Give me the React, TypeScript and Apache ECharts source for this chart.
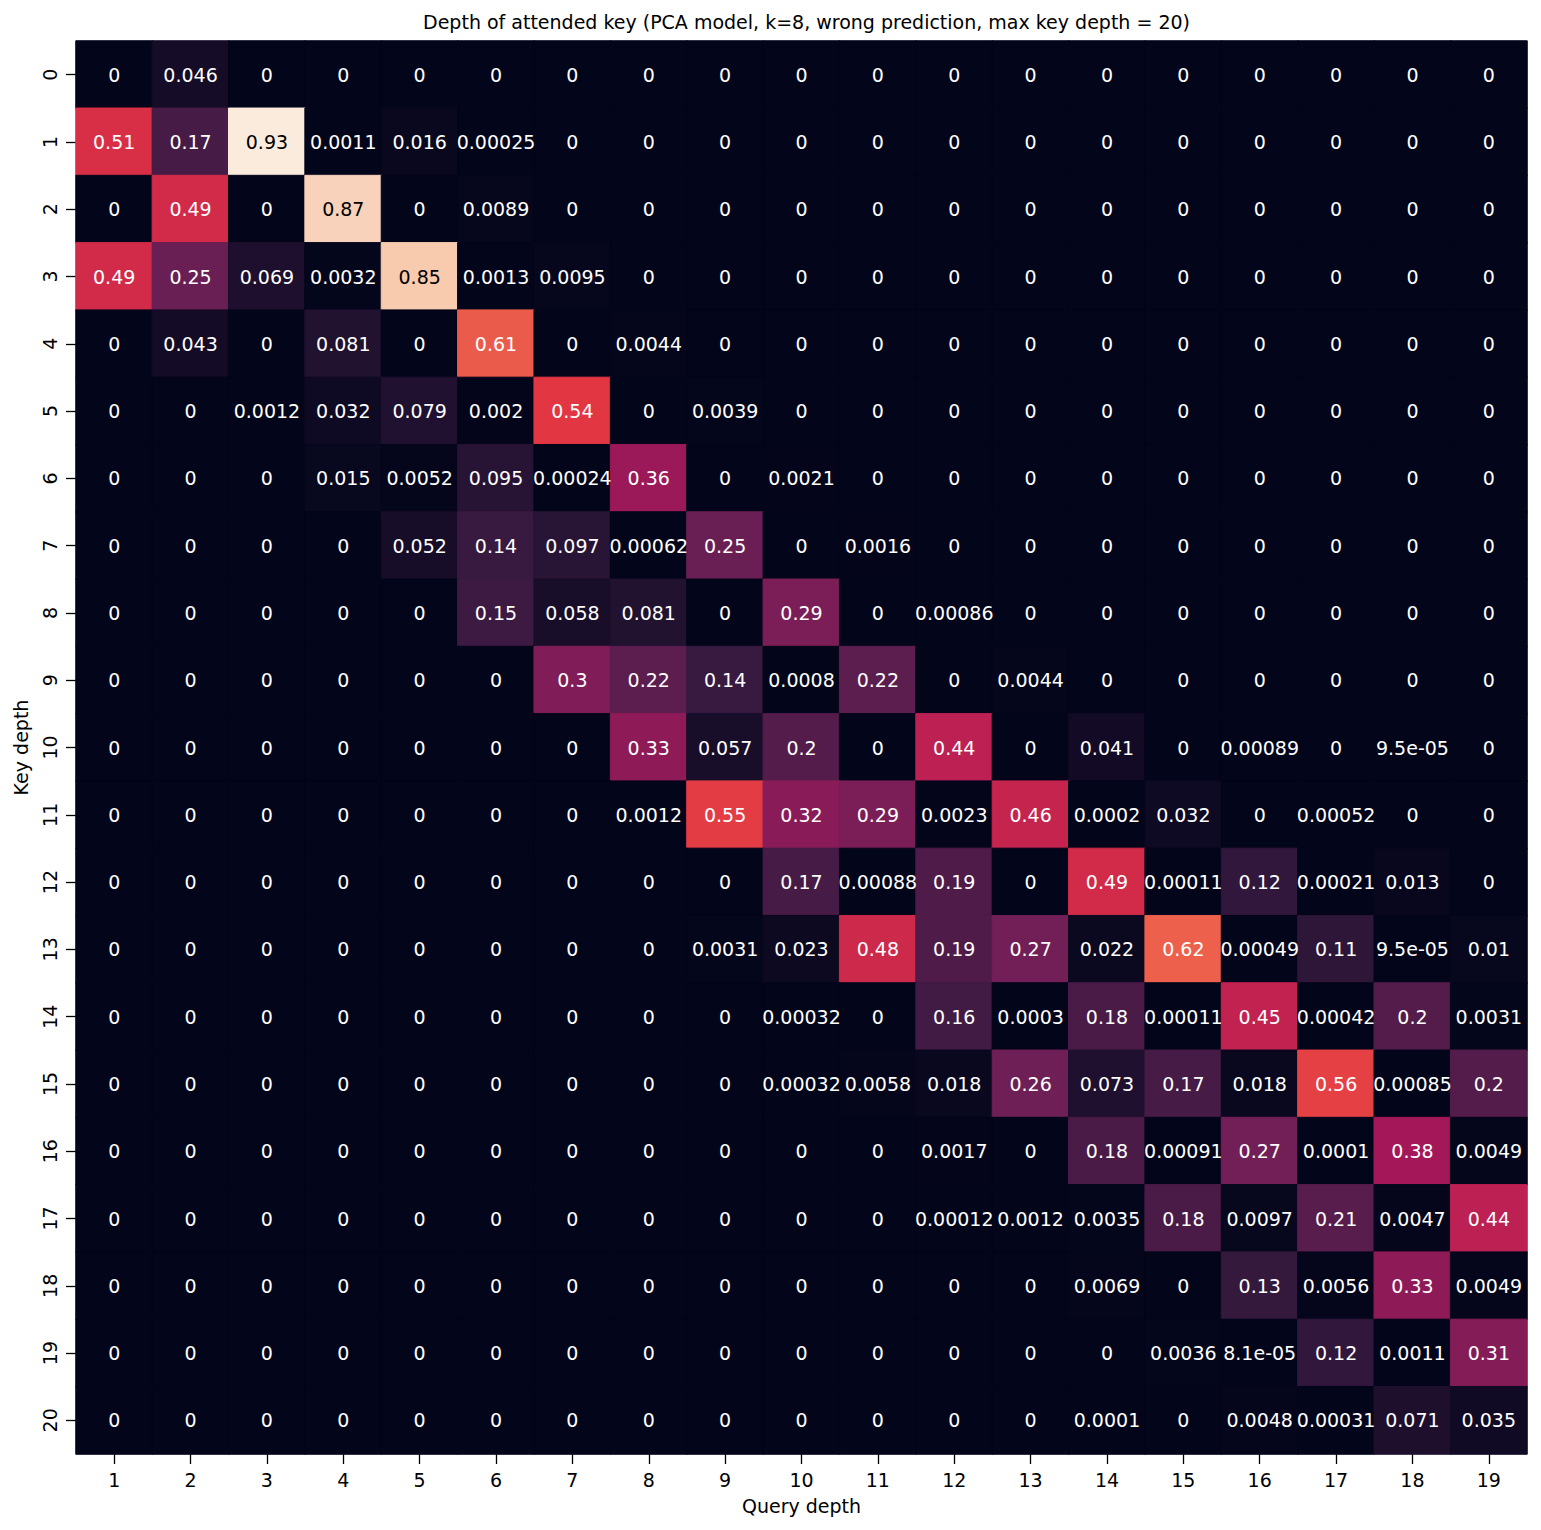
import React, { useEffect, useRef } from "react";
import * as echarts from "echarts";

const TITLE = "Depth of attended key (PCA model, k=8, wrong prediction, max key depth = 20)";
const queryDepths = ["1","2","3","4","5","6","7","8","9","10","11","12","13","14","15","16","17","18","19"];
const keyDepths = ["0","1","2","3","4","5","6","7","8","9","10","11","12","13","14","15","16","17","18","19","20"];

// rows = key depth 0..20, columns = query depth 1..19
const attention: number[][] = [
  [0, 0.046, 0, 0, 0, 0, 0, 0, 0, 0, 0, 0, 0, 0, 0, 0, 0, 0, 0],
  [0.51, 0.17, 0.93, 0.0011, 0.016, 0.00025, 0, 0, 0, 0, 0, 0, 0, 0, 0, 0, 0, 0, 0],
  [0, 0.49, 0, 0.87, 0, 0.0089, 0, 0, 0, 0, 0, 0, 0, 0, 0, 0, 0, 0, 0],
  [0.49, 0.25, 0.069, 0.0032, 0.85, 0.0013, 0.0095, 0, 0, 0, 0, 0, 0, 0, 0, 0, 0, 0, 0],
  [0, 0.043, 0, 0.081, 0, 0.61, 0, 0.0044, 0, 0, 0, 0, 0, 0, 0, 0, 0, 0, 0],
  [0, 0, 0.0012, 0.032, 0.079, 0.002, 0.54, 0, 0.0039, 0, 0, 0, 0, 0, 0, 0, 0, 0, 0],
  [0, 0, 0, 0.015, 0.0052, 0.095, 0.00024, 0.36, 0, 0.0021, 0, 0, 0, 0, 0, 0, 0, 0, 0],
  [0, 0, 0, 0, 0.052, 0.14, 0.097, 0.00062, 0.25, 0, 0.0016, 0, 0, 0, 0, 0, 0, 0, 0],
  [0, 0, 0, 0, 0, 0.15, 0.058, 0.081, 0, 0.29, 0, 0.00086, 0, 0, 0, 0, 0, 0, 0],
  [0, 0, 0, 0, 0, 0, 0.3, 0.22, 0.14, 0.0008, 0.22, 0, 0.0044, 0, 0, 0, 0, 0, 0],
  [0, 0, 0, 0, 0, 0, 0, 0.33, 0.057, 0.2, 0, 0.44, 0, 0.041, 0, 0.00089, 0, 9.5e-5, 0],
  [0, 0, 0, 0, 0, 0, 0, 0.0012, 0.55, 0.32, 0.29, 0.0023, 0.46, 0.0002, 0.032, 0, 0.00052, 0, 0],
  [0, 0, 0, 0, 0, 0, 0, 0, 0, 0.17, 0.00088, 0.19, 0, 0.49, 0.00011, 0.12, 0.00021, 0.013, 0],
  [0, 0, 0, 0, 0, 0, 0, 0, 0.0031, 0.023, 0.48, 0.19, 0.27, 0.022, 0.62, 0.00049, 0.11, 9.5e-5, 0.01],
  [0, 0, 0, 0, 0, 0, 0, 0, 0, 0.00032, 0, 0.16, 0.0003, 0.18, 0.00011, 0.45, 0.00042, 0.2, 0.0031],
  [0, 0, 0, 0, 0, 0, 0, 0, 0, 0.00032, 0.0058, 0.018, 0.26, 0.073, 0.17, 0.018, 0.56, 0.00085, 0.2],
  [0, 0, 0, 0, 0, 0, 0, 0, 0, 0, 0, 0.0017, 0, 0.18, 0.00091, 0.27, 0.0001, 0.38, 0.0049],
  [0, 0, 0, 0, 0, 0, 0, 0, 0, 0, 0, 0.00012, 0.0012, 0.0035, 0.18, 0.0097, 0.21, 0.0047, 0.44],
  [0, 0, 0, 0, 0, 0, 0, 0, 0, 0, 0, 0, 0, 0.0069, 0, 0.13, 0.0056, 0.33, 0.0049],
  [0, 0, 0, 0, 0, 0, 0, 0, 0, 0, 0, 0, 0, 0, 0.0036, 8.1e-5, 0.12, 0.0011, 0.31],
  [0, 0, 0, 0, 0, 0, 0, 0, 0, 0, 0, 0, 0, 0.0001, 0, 0.0048, 0.00031, 0.071, 0.035],
];

// seaborn "rocket" colormap stops
const rocketStops: [number, string][] = [
  [0, "#03051a"],
  [1 / 7, "#35193e"],
  [2 / 7, "#701f57"],
  [3 / 7, "#ad1759"],
  [4 / 7, "#e13342"],
  [5 / 7, "#f37651"],
  [6 / 7, "#f6b48f"],
  [1, "#faebdd"],
];

function hexToRgb(h: string): number[] {
  return [parseInt(h.slice(1, 3), 16), parseInt(h.slice(3, 5), 16), parseInt(h.slice(5, 7), 16)];
}

function rocket(t: number): number[] {
  t = Math.max(0, Math.min(1, t));
  for (let i = 0; i < rocketStops.length - 1; i++) {
    const [t0, c0] = rocketStops[i];
    const [t1, c1] = rocketStops[i + 1];
    if (t <= t1) {
      const f = (t - t0) / (t1 - t0);
      const a = hexToRgb(c0);
      const b = hexToRgb(c1);
      return a.map((v, k) => Math.round(v + (b[k] - v) * f));
    }
  }
  return hexToRgb(rocketStops[rocketStops.length - 1][1]);
}

function luminance(rgb: number[]): number {
  const lin = rgb.map((v) => {
    const c = v / 255;
    return c <= 0.03928 ? c / 12.92 : Math.pow((c + 0.055) / 1.055, 2.4);
  });
  return 0.2126 * lin[0] + 0.7152 * lin[1] + 0.0722 * lin[2];
}

function fmt(v: number): string {
  if (v === 0) return "0";
  const e = Math.floor(Math.log10(Math.abs(v)));
  if (e < -4) {
    const m = String(parseFloat((v / Math.pow(10, e)).toPrecision(2)));
    return m + "e-" + String(-e).padStart(2, "0");
  }
  return String(parseFloat(v.toPrecision(2)));
}

const FONT = "DejaVu Sans";
const FS = 19;

export default function App() {
  const ref = useRef<HTMLDivElement>(null);
  useEffect(() => {
    document.body.style.margin = "0";
    if (!ref.current) return;
    const chart = echarts.init(ref.current, null, { renderer: "svg" });
    let vmax = 0;
    let vmin = Infinity;
    attention.forEach((row) => row.forEach((v) => { vmax = Math.max(vmax, v); vmin = Math.min(vmin, v); }));
    const palette: string[] = [];
    for (let i = 0; i <= 56; i++) {
      const c = rocket(i / 56);
      palette.push(`rgb(${c[0]},${c[1]},${c[2]})`);
    }
    const base = rocket(0);
    const data: any[] = [];
    attention.forEach((row, yi) => {
      row.forEach((v, xi) => {
        const rgb = rocket((v - vmin) / (vmax - vmin));
        const col = `rgb(${rgb[0]},${rgb[1]},${rgb[2]})`;
        data.push({
          value: [xi, yi, v],
          itemStyle: { borderColor: col, borderWidth: 1 },
          label: { color: luminance(rgb) > 0.408 ? "#000000" : "#ffffff" },
        });
      });
    });
    chart.setOption({
      animation: false,
      backgroundColor: "#ffffff",
      title: {
        text: TITLE,
        left: 801.5,
        textAlign: "center",
        top: 7,
        textStyle: { fontFamily: FONT, fontSize: FS, fontWeight: "normal", color: "#000" },
      },
      visualMap: {
        show: false,
        type: "continuous",
        min: vmin,
        max: vmax,
        dimension: 2,
        inRange: { color: palette },
      },
      grid: {
        left: 76, top: 41, width: 1451, height: 1413,
        show: true, borderWidth: 0,
        backgroundColor: `rgb(${base[0]},${base[1]},${base[2]})`,
      },
      xAxis: {
        type: "category",
        data: queryDepths,
        name: "Query depth",
        nameLocation: "middle",
        nameGap: 42,
        nameTextStyle: { fontFamily: FONT, fontSize: FS, color: "#000" },
        axisLine: { show: false },
        axisTick: { show: true, alignWithLabel: true, length: 10, lineStyle: { color: "#000", width: 1.3 } },
        axisLabel: { fontFamily: FONT, fontSize: FS, color: "#000", margin: 16 },
        splitLine: { show: false },
        splitArea: { show: false },
      },
      yAxis: {
        type: "category",
        data: keyDepths,
        inverse: true,
        name: "Key depth",
        nameLocation: "middle",
        nameGap: 46,
        nameRotate: 90,
        nameTextStyle: { fontFamily: FONT, fontSize: FS, color: "#000" },
        axisLine: { show: false },
        axisTick: { show: true, alignWithLabel: true, length: 10, lineStyle: { color: "#000", width: 1.3 } },
        axisLabel: { fontFamily: FONT, fontSize: FS, color: "#000", rotate: 90, margin: 17, align: "center", verticalAlign: "bottom" },
        splitLine: { show: false },
        splitArea: { show: false },
      },
      series: [
        {
          type: "heatmap",
          data,
          label: {
            show: true,
            fontFamily: FONT,
            fontSize: FS,
            formatter: (p: any) => fmt(p.value[2]),
          },
          emphasis: { disabled: true },
        },
      ],
    });
    return () => chart.dispose();
  }, []);
  return <div ref={ref} style={{ width: 1541, height: 1530 }} />;
}
